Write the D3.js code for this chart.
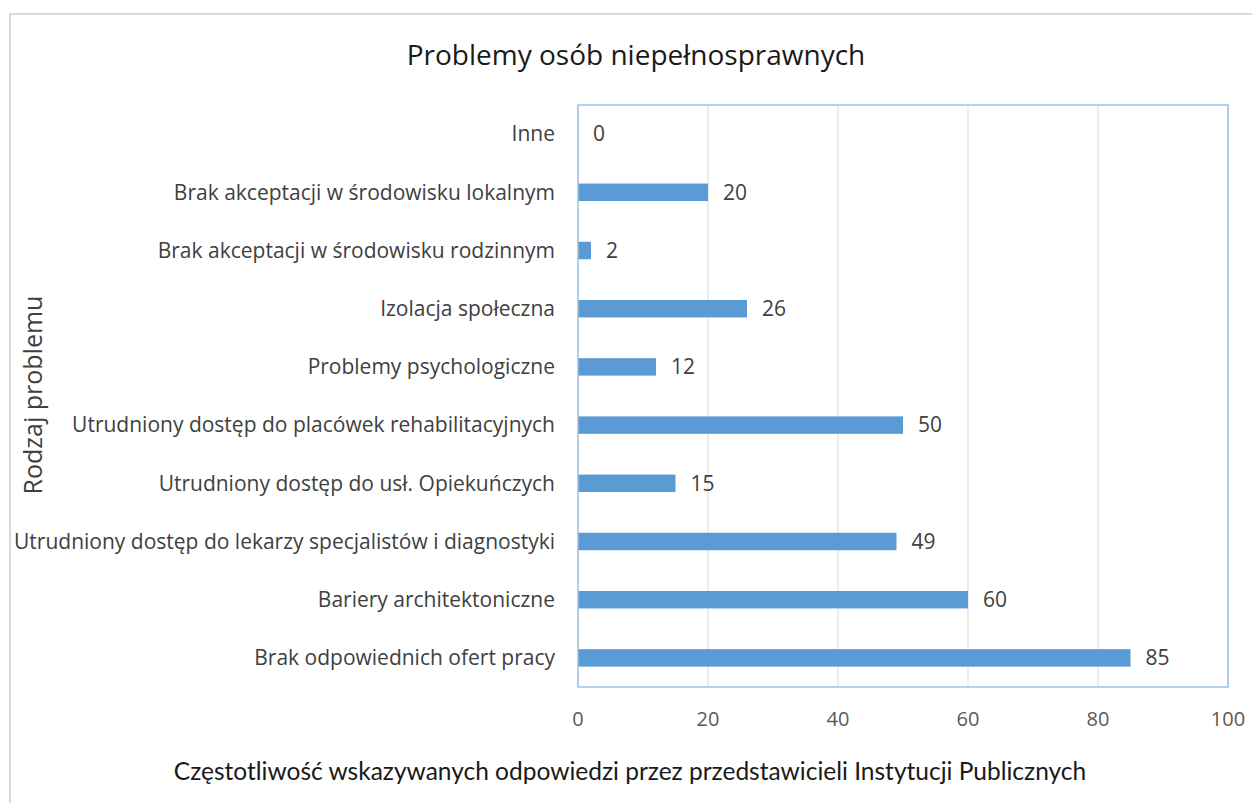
<!DOCTYPE html>
<html>
<head>
<meta charset="utf-8">
<script src="https://cdn.jsdelivr.net/npm/d3@7"></script>
<style>
body{margin:0;background:#fff;}
svg{display:block;font-family:"Open Sans",sans-serif;}
</style>
</head>
<body>
<svg id="chart" width="1252" height="803"></svg>
<script>
'use strict'
// categories, top to bottom
var categories = [
	'Inne'
	,'Brak akceptacji w środowisku lokalnym'
	,'Brak akceptacji w środowisku rodzinnym'
	,'Izolacja społeczna'
	,'Problemy psychologiczne'
	,'Utrudniony dostęp do placówek rehabilitacyjnych'
	,'Utrudniony dostęp do usł. Opiekuńczych'
	,'Utrudniony dostęp do lekarzy specjalistów i diagnostyki'
	,'Bariery architektoniczne'
	,'Brak odpowiednich ofert pracy'
];
var values = [0, 20, 2, 26, 12, 50, 15, 49, 60, 85];
var xTicks = [0, 20, 40, 60, 80, 100];

var title = 'Problemy osób niepełnosprawnych';
var xTitle = 'Częstotliwość wskazywanych odpowiedzi przez przedstawicieli Instytucji Publicznych';
var yTitle = 'Rodzaj problemu';

var svg = d3.select('#chart');
var plot = {left: 578, top: 105, right: 1228, bottom: 687};

// outer frame
svg.append('rect')
	.attr('x', 10).attr('y', 14)
	.attr('width', 1260).attr('height', 820)
	.attr('fill', 'none').attr('stroke', '#d9d9d9').attr('stroke-width', 2);

var x = d3.scaleLinear().domain([0, 100]).range([plot.left, plot.right]);
var y = d3.scaleBand().domain(categories).range([plot.top, plot.bottom]).paddingInner(0.7).paddingOuter(0.35);

// gridlines
svg.append('g').selectAll('line').data(xTicks).join('line')
	.attr('x1', function(d){ return x(d); }).attr('x2', function(d){ return x(d); })
	.attr('y1', plot.top).attr('y2', plot.bottom)
	.attr('stroke', '#d9d9d9').attr('stroke-width', 1);

// bars
svg.append('g').selectAll('rect').data(values).join('rect')
	.attr('x', x(0))
	.attr('y', function(d, i){ return y(categories[i]); })
	.attr('width', function(d){ return x(d) - x(0); })
	.attr('height', y.bandwidth())
	.attr('fill', '#5b9bd5');

// plot border
svg.append('rect')
	.attr('x', plot.left).attr('y', plot.top)
	.attr('width', plot.right - plot.left).attr('height', plot.bottom - plot.top)
	.attr('fill', 'none').attr('stroke', '#9dc3e6').attr('stroke-width', 1.5);

// data labels
svg.append('g').selectAll('text').data(values).join('text')
	.attr('x', function(d){ return x(d) + 15; })
	.attr('y', function(d, i){ return y(categories[i]) + y.bandwidth() / 2; })
	.attr('dy', '0.35em')
	.attr('font-size', 21).attr('fill', '#404040')
	.text(function(d){ return d; });

// category labels
svg.append('g').selectAll('text').data(categories).join('text')
	.attr('x', plot.left - 23)
	.attr('y', function(d){ return y(d) + y.bandwidth() / 2; })
	.attr('dy', '0.35em')
	.attr('text-anchor', 'end')
	.attr('font-size', 21).attr('fill', '#404040')
	.text(function(d){ return d; });

// x tick labels
svg.append('g').selectAll('text').data(xTicks).join('text')
	.attr('x', function(d){ return x(d); })
	.attr('y', 719)
	.attr('dy', '0.35em')
	.attr('text-anchor', 'middle')
	.attr('font-size', 20).attr('fill', '#595959')
	.text(function(d){ return d; });

// titles
svg.append('text')
	.attr('x', 636).attr('y', 55).attr('dy', '0.35em')
	.attr('text-anchor', 'middle')
	.attr('font-size', 28).attr('fill', '#1a1a1a')
	.text(title);

svg.append('text')
	.attr('x', 630).attr('y', 771).attr('dy', '0.35em')
	.attr('text-anchor', 'middle')
	.attr('font-family', 'Lato, sans-serif')
	.attr('font-size', 24.5).attr('fill', '#1a1a1a')
	.text(xTitle);

svg.append('text')
	.attr('transform', 'translate(33,395) rotate(-90)')
	.attr('dy', '0.35em')
	.attr('text-anchor', 'middle')
	.attr('font-size', 25).attr('fill', '#404040')
	.text(yTitle);
</script>
</body>
</html>
